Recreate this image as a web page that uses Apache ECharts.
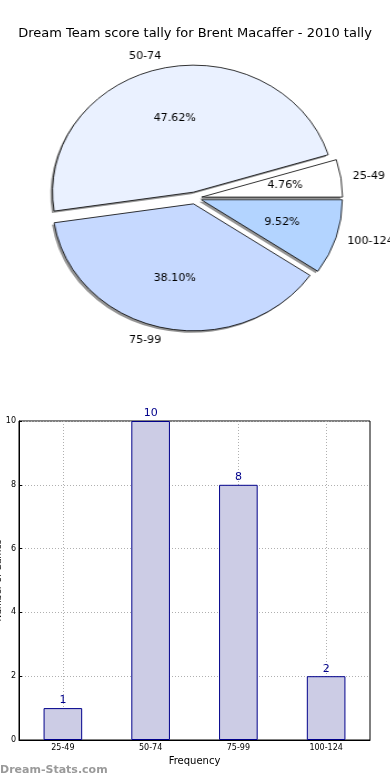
<!DOCTYPE html>
<html>
<head>
<meta charset="utf-8">
<script src="https://cdn.jsdelivr.net/npm/echarts@6/dist/echarts.min.js"></script>
<style>
html,body{margin:0;padding:0;background:#fff;}
#main{position:absolute;left:0;top:0;width:390px;height:780px;}
#pie{position:absolute;left:0;top:0;width:390px;height:380px;transform:scaleX(1.11);transform-origin:195px 0;}
</style>
</head>
<body>
<div id="main"></div>
<div id="pie"></div>
<script>
const titleText = 'Dream Team score tally for Brent Macaffer - 2010 tally';
const categories = ['25-49', '50-74', '75-99', '100-124'];
const counts = [1, 10, 8, 2];
const pieColors = ['#ffffff', '#eaf1ff', '#c6d9ff', '#b3d4ff'];
const yTicks = [0, 2, 4, 6, 8, 10];
const xAxisName = 'Frequency';
const yAxisName = 'Number of Games';
const watermark = 'Dream-Stats.com';

const FONT = 'DejaVu Sans';
const total = counts.reduce((a, b) => a + b, 0);
const R = 127;
const CX = 195, CY = 198;

const main = echarts.init(document.getElementById('main'), null, {renderer: 'canvas'});
main.setOption({
  animation: false,
  textStyle: {fontFamily: FONT},
  title: {
    text: titleText, left: 'center', top: 22,
    textStyle: {fontFamily: FONT, fontSize: 13, fontWeight: 'normal', color: '#000'}
  },
  graphic: [{
    type: 'text', left: 0, top: 765,
    style: {text: watermark, fontFamily: FONT, fontSize: 11, fontWeight: 'bold', fill: '#9a9a9a'}
  }],
  grid: {
    left: 19, right: 20, top: 421, bottom: 40,
    containLabel: false, outerBoundsMode: 'none',
    show: true, borderColor: '#000', borderWidth: 1, backgroundColor: 'transparent'
  },
  xAxis: {
    type: 'category', data: categories,
    name: xAxisName, nameLocation: 'middle', nameGap: 16,
    nameTextStyle: {fontFamily: FONT, fontSize: 10, color: '#000'},
    axisLine: {show: true, lineStyle: {color: '#000', width: 1}},
    axisTick: {show: true, inside: true, length: 3, alignWithLabel: true, lineStyle: {color: '#000'}},
    axisLabel: {fontFamily: FONT, fontSize: 8, color: '#000', margin: 4},
    splitLine: {show: true, alignWithLabel: true, lineStyle: {color: '#b0b0b0', type: [1, 2], width: 1}}
  },
  yAxis: {
    type: 'value', min: yTicks[0], max: yTicks[yTicks.length - 1], interval: 2,
    name: yAxisName, nameLocation: 'middle', nameGap: 16, nameMoveOverlap: false,
    nameTextStyle: {fontFamily: FONT, fontSize: 9, color: '#000'},
    axisLine: {show: true, lineStyle: {color: '#000', width: 1}},
    axisTick: {show: true, inside: true, length: 3, lineStyle: {color: '#000'}},
    axisLabel: {fontFamily: FONT, fontSize: 8, color: '#000', margin: 3},
    splitLine: {show: true, lineStyle: {color: '#b0b0b0', type: [1, 2], width: 1}}
  },
  series: [{
    type: 'bar', data: counts, barWidth: '44%',
    itemStyle: {color: '#ccccE5', borderColor: '#00008b', borderWidth: 1},
    label: {show: true, position: 'top', distance: 2, fontFamily: FONT, fontSize: 11, color: '#00008b'},
    z: 3
  }]
});

const pie = echarts.init(document.getElementById('pie'), null, {renderer: 'canvas'});
const pieData = categories.map((c, i) => ({name: c, value: counts[i], selected: true, itemStyle: {color: pieColors[i]}}));
const plainData = categories.map((c, i) => ({name: c, value: counts[i], selected: true}));
const common = {
  type: 'pie', startAngle: 0, clockwise: false,
  selectedMode: 'multiple', selectedOffset: 6,
  avoidLabelOverlap: false, silent: true,
  emphasis: {disabled: true}
};
pie.setOption({
  animation: false,
  series: [Object.assign({}, common, {
    // drop shadow
    center: [CX - 2, CY + 2], radius: [0, R],
    data: plainData, z: 1,
    itemStyle: {color: 'rgba(0,0,0,0.42)', borderWidth: 0},
    label: {show: false}, labelLine: {show: false}
  }), Object.assign({}, common, {
    center: [CX, CY], radius: [0, R],
    data: pieData, z: 2,
    itemStyle: {borderColor: '#000', borderWidth: 0.8},
    label: {show: true, position: 'outside', distanceToLabelLine: -2, fontFamily: FONT, fontSize: 10, color: '#000', formatter: '{b}'},
    labelLine: {show: false, length: R * 0.1, length2: 0}
  }), Object.assign({}, common, {
    center: [CX, CY], radius: [0, R * 1.15],
    data: plainData, z: 3,
    itemStyle: {color: 'rgba(0,0,0,0)', borderWidth: 0},
    label: {show: true, position: 'inside', fontFamily: FONT, fontSize: 10, color: '#000',
      formatter: p => (p.value / total * 100).toFixed(2) + '%'},
    labelLine: {show: false}
  })]
});
</script>
</body>
</html>
